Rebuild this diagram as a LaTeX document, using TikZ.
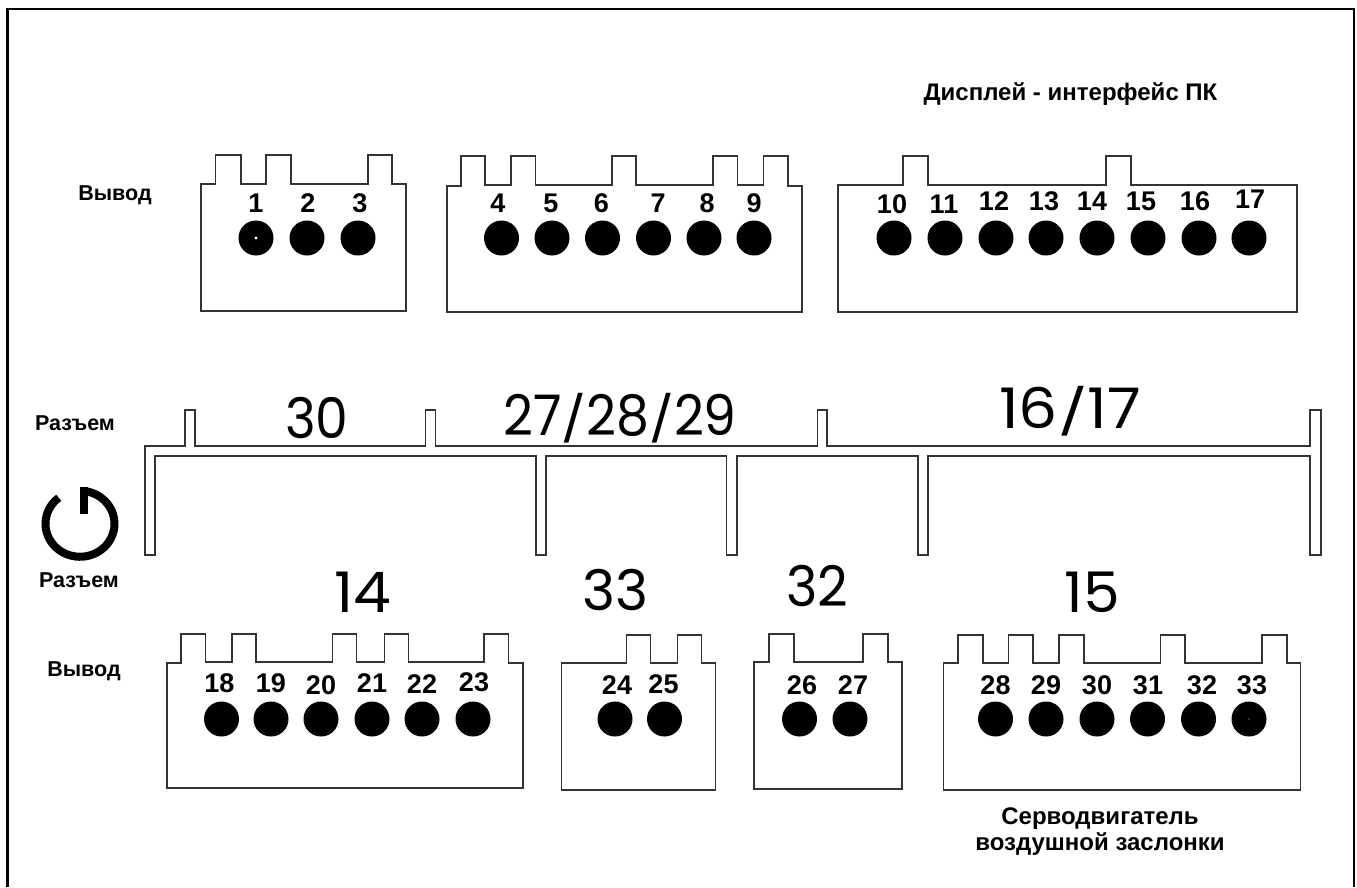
\documentclass[tikz,border=0pt]{standalone}
\usepackage{fontspec}
\setmainfont{Liberation Sans}
\newfontfamily\bigfont{Poppins}
\tikzset{
  body/.style={draw=black!80,line width=1.5pt,line join=miter},
  frameline/.style={draw=black,line width=2.6pt},
  pinhole/.style={circle,fill=black,inner sep=0pt,minimum size=35pt},
  pinno/.style={inner sep=0pt,font=\fontsize{27}{27}\selectfont\bfseries},
  caption/.style={inner sep=0pt,align=center,font=\fontsize{21.5}{26}\selectfont\bfseries},
  captionb/.style={inner sep=0pt,align=center,font=\fontsize{24}{26}\selectfont\bfseries},
  bignum/.style={inner sep=0pt,anchor=base,font=\fontsize{56}{56}\bigfont}
}
\newcommand{\bign}[2]{\scalebox{#1}[1]{#2}}
\newcommand{\slsh}{\scalebox{1}[.8]{/}}
\begin{document}
\begin{tikzpicture}[x=1pt,y=-1pt]
\useasboundingbox (0,0) rectangle (1357,887);
% frame
\draw[frameline] (7.5,887) -- (7.5,9) -- (1354,9) -- (1354,887);

% upper connectors
\draw[body] (201,311) -- (201,184) -- (215.5,184) -- (215.5,155) -- (241,155) -- (241,184) -- (266,184) -- (266,155) -- (291,155) -- (291,184) -- (368,184) -- (368,155) -- (392,155) -- (392,184) -- (406,184) -- (406,311) -- cycle;
\draw[body] (447,312) -- (447,186) -- (461,186) -- (461,156) -- (485,156) -- (485,185) -- (511,185) -- (511,156) -- (535.5,156) -- (535.5,185) -- (612,185) -- (612,156) -- (636,156) -- (636,185) -- (713,185) -- (713,156) -- (737.5,156) -- (737.5,185) -- (763.5,185) -- (763.5,156) -- (788,156) -- (788,186) -- (802,186) -- (802,312) -- cycle;
\draw[body] (838,312) -- (838,185) -- (903,185) -- (903,156) -- (928,156) -- (928,185) -- (1106,185) -- (1106,156) -- (1131,156) -- (1131,185) -- (1297,185) -- (1297,312) -- cycle;

% central bus
\draw[body] (145,555) -- (145,446) -- (185,446) -- (185,410) -- (195,410) -- (195,446) -- (425.5,446) -- (425.5,410) -- (435.5,410) -- (435.5,446) -- (817.5,446) -- (817.5,410) -- (827,410) -- (827,446) -- (1310,446) -- (1310,410) -- (1321,410) -- (1321,555) -- (1310,555) -- (1310,456) -- (928,456) -- (928,555) -- (918,555) -- (918,456) -- (737,456) -- (737,555) -- (726.5,555) -- (726.5,456) -- (546,456) -- (546,555) -- (536,555) -- (536,456) -- (155,456) -- (155,555) -- cycle;

% lower connectors
\draw[body] (167,788) -- (167,663) -- (181,663) -- (181,634) -- (205.5,634) -- (205.5,662) -- (232,662) -- (232,634) -- (256,634) -- (256,662) -- (332.5,662) -- (332.5,634) -- (356.5,634) -- (356.5,662) -- (384.5,662) -- (384.5,634) -- (408.5,634) -- (408.5,662) -- (484,662) -- (484,634) -- (508.5,634) -- (508.5,663) -- (523,663) -- (523,788) -- cycle;
\draw[body] (561.5,790) -- (561.5,663) -- (626.5,663) -- (626.5,635) -- (650.5,635) -- (650.5,663) -- (677.5,663) -- (677.5,635) -- (701.5,635) -- (701.5,663) -- (715.5,663) -- (715.5,790) -- cycle;
\draw[body] (754,789) -- (754,662) -- (769,662) -- (769,634) -- (794,634) -- (794,662) -- (863,662) -- (863,634) -- (888,634) -- (888,662) -- (902,662) -- (902,789) -- cycle;
\draw[body] (943.5,790) -- (943.5,663) -- (958,663) -- (958,635) -- (983,635) -- (983,663) -- (1008.5,663) -- (1008.5,635) -- (1033,635) -- (1033,663) -- (1059,663) -- (1059,635) -- (1084,635) -- (1084,663) -- (1160.5,663) -- (1160.5,635) -- (1185,635) -- (1185,663) -- (1262,663) -- (1262,635) -- (1287,635) -- (1287,663) -- (1300.5,663) -- (1300.5,790) -- cycle;

% pins: number / hole x / label x / label y
\foreach \n/\cx/\lx/\ly in {
 1/256/256/203, 2/307/308/203, 3/358/360/203,
 4/501.5/498/203, 5/552/551/203, 6/602.5/601.5/203, 7/653.5/658/203, 8/704/707/203, 9/754/754/203,
 10/894/892/204, 11/945/944/204, 12/996/994/201, 13/1046/1044/201, 14/1097/1092/201, 15/1148/1141/201, 16/1199/1195/201, 17/1249/1250/199}
 {\node[pinhole] (pin\n) at (\cx,238) {};
  \node[pinno] (no\n) at (\lx,\ly) {\n};}
\foreach \n/\cx/\lx/\ly in {
 18/221.5/219.5/683, 19/271/271/683, 20/321/321/685, 21/372/372/683, 22/422/422/684, 23/473/474/682,
 24/615/617/685, 25/664.5/663.5/684, 26/799.5/802/685, 27/850/853/685,
 28/995.5/995.5/685, 29/1046/1046/685, 30/1097/1097/685, 31/1147.5/1148/685, 32/1198.5/1202/685, 33/1249/1252/685}
 {\node[pinhole] (pin\n) at (\cx,719) {};
  \node[pinno] (no\n) at (\lx,\ly) {\n};}
% small marks in holes 1 and 33
\fill[white] (pin1) circle (1.6pt);
\fill[black!65] (pin33) circle (0.8pt);

% large numbers
\node[bignum] (a30) at (316.7,438) {\bign{.93}{30}};
\node[bignum] (a27) at (620,435) {\bign{.93}{27\slsh 28\slsh 29}};
\node[bignum] (a16) at (1070,428) {\bign{1.1}{16\slsh 17}};
\node[bignum] (b14) at (363,612) {\bign{1.07}{14}};
\node[bignum] (b33) at (615,610) {\bign{1}{33}};
\node[bignum] (b32) at (817,606) {\bign{.95}{32}};
\node[bignum] (b15) at (1092,612) {\bign{1.04}{15}};

% captions
\node[captionb] (c1) at (1070.5,94) {Дисплей - интерфейс ПК};
\node[caption] (c2) at (115,195) {Вывод};
\node[caption] (c3) at (75,423) {Разъем};
\node[caption] (c4) at (79,580) {Разъем};
\node[caption] (c5) at (84,671) {Вывод};
\node[captionb] (c6) at (1100,832) {Серводвигатель\\воздушной заслонки};

% power symbol
\draw[black,line width=8pt] (84.2,491) arc[start angle=-83,end angle=232,x radius=34.5,y radius=33];
\fill[black] (80,487) rectangle (88,514);
\end{tikzpicture}
\end{document}
